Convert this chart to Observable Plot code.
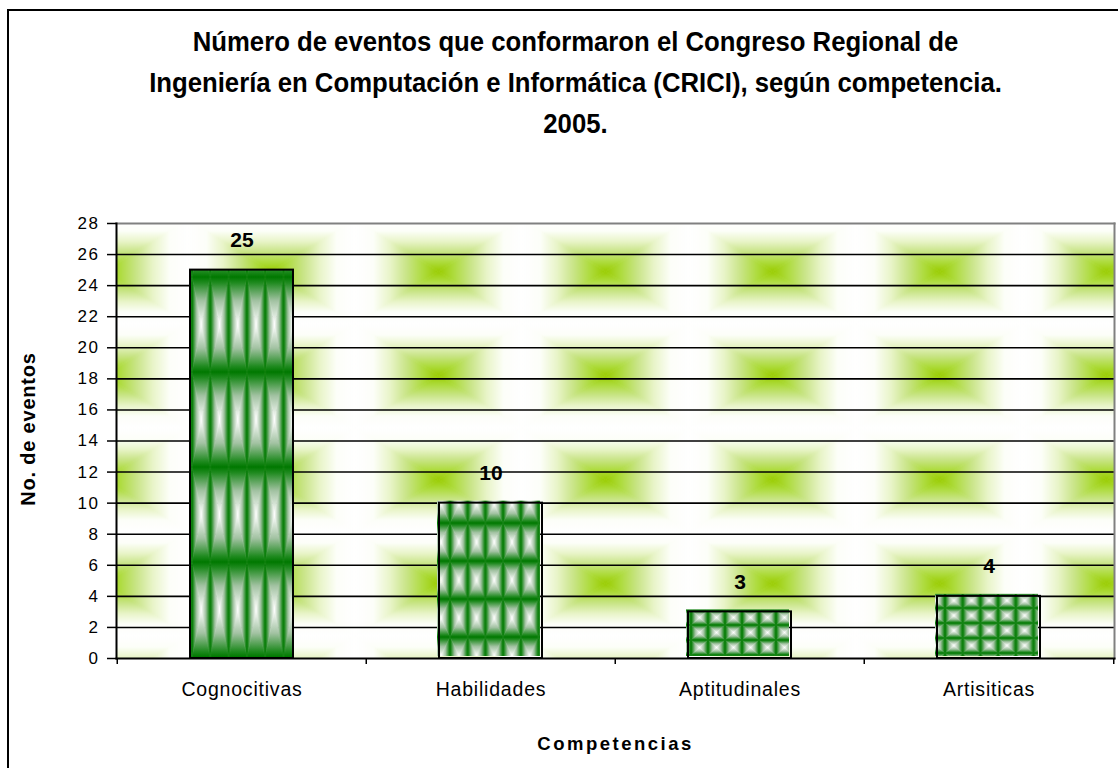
<!DOCTYPE html>
<html><head><meta charset="utf-8">
<script src="https://cdn.jsdelivr.net/npm/d3@7"></script>
<script src="https://cdn.jsdelivr.net/npm/@observablehq/plot@0.6"></script>
<style>
body{margin:0;width:1118px;height:768px;overflow:hidden;position:relative;background:#fff;font-family:"Liberation Sans",Arial,sans-serif}
#frame{position:absolute;left:7px;top:9px;width:1300px;height:1000px;border:2px solid #000;box-sizing:border-box}
#title{position:absolute;left:0;top:22px;width:1151px;text-align:center;font-family:"Liberation Sans",Arial,sans-serif;font-weight:bold;font-size:27px;line-height:41px;color:#000}
#title div{transform:scaleX(0.952);transform-origin:575.5px 50%;white-space:nowrap}
#chart{position:absolute;left:0;top:0}
</style></head>
<body>
<div id="frame"></div>
<div id="title"><div>Número de eventos que conformaron el Congreso Regional de</div><div>Ingeniería en Computación e Informática (CRICI), según competencia.</div><div>2005.</div></div>
<div id="chart"></div>
<script>
const categories = ["Cognocitivas", "Habilidades", "Aptitudinales", "Artisiticas"];
const values = [25, 10, 3, 4];
const yTicks = [0, 2, 4, 6, 8, 10, 12, 14, 16, 18, 20, 22, 24, 26, 28];
const yLabel = "No. de eventos";
const xLabel = "Competencias";

const data = categories.map((c, i) => ({category: c, value: values[i]}));

const W = 1118, H = 768, mL = 116, mR = 4, mT = 223, mB = 110;
const step = (W - mL - mR) / categories.length;

const marks = [
  Plot.frame({fill: "url(#bgPat)"}),
  Plot.ruleY(yTicks.filter(t => t > 0 && t < 28), {stroke: "#000", strokeWidth: 1.6}),
];
data.forEach((d, i) => {
  const off = i === 0 ? 0 : -2;
  marks.push(Plot.barY([d], {x: "category", y: "value", fill: `url(#barPat${i})`, dx: off, dy: off}));
});
marks.push(
  Plot.barY(data, {x: "category", y: "value", fill: "none", stroke: "#000", strokeWidth: 2}),
  Plot.frame({anchor: "top", stroke: "#808080", strokeWidth: 2}),
  Plot.frame({anchor: "right", stroke: "#808080", strokeWidth: 2}),
  Plot.frame({anchor: "left", stroke: "#000", strokeWidth: 2}),
  Plot.frame({anchor: "bottom", stroke: "#000", strokeWidth: 2}),
  Plot.axisY({ticks: yTicks, tickSize: 9, tickPadding: 8, fontSize: 17, label: null, strokeWidth: 1.5}),
  Plot.axisX({tickSize: 0, tickPadding: 24, fontSize: 19.5, label: null}),
  Plot.ruleX(data, {x: "category", dx: -step / 2, y1: 0, y2: 0, insetBottom: -6, stroke: "#000", strokeWidth: 1.5}),
  Plot.ruleX(data.slice(-1), {x: "category", dx: step / 2, y1: 0, y2: 0, insetBottom: -6, stroke: "#000", strokeWidth: 1.5}),
  Plot.text(data, {x: "category", y: "value", text: d => String(d.value), dy: -30, fontSize: 21, fontWeight: "bold"}),
  Plot.text([yLabel], {frameAnchor: "left", textAnchor: "middle", text: d => d, rotate: -90, dx: -88, dy: -12, fontSize: 20, fontWeight: "bold"}),
  Plot.text([xLabel], {frameAnchor: "bottom", textAnchor: "middle", text: d => d, dy: 91, fontSize: 18.5, fontWeight: "bold"})
);

const svg = Plot.plot({
  width: W, height: H,
  marginLeft: mL, marginRight: mR, marginTop: mT, marginBottom: mB,
  x: {domain: categories, paddingInner: 0.587, paddingOuter: 0.2935, axis: null},
  y: {domain: [0, 28], axis: null},
  style: {fontFamily: '"Liberation Sans",Arial,sans-serif', color: "#000", background: "transparent", overflow: "visible"},
  marks
});

// pattern definitions
const defs = d3.select(svg).insert("defs", ":first-child");
function gradSet(prefix, stops) {
  const dirs = {t: [0, 0, 0, 1], b: [0, 1, 0, 0], l: [0, 0, 1, 0], r: [1, 0, 0, 0]};
  for (const [k, [x1, y1, x2, y2]] of Object.entries(dirs)) {
    const g = defs.append("linearGradient").attr("id", `${prefix}-${k}`)
      .attr("x1", x1).attr("y1", y1).attr("x2", x2).attr("y2", y2);
    for (const [o, c] of stops) g.append("stop").attr("offset", o).attr("stop-color", c);
  }
}
gradSet("bgG", [[0, "#ffffff"], [0.22, "#fcfef8"], [0.42, "#e8f4c8"], [0.62, "#c8e486"], [0.82, "#addb3c"], [1, "#99cc00"]]);
gradSet("barG", [[0, "#007800"], [0.12, "#1f8a1f"], [0.5, "#a2c2a2"], [1, "#ffffff"]]);
function boxPattern(id, prefix, w, h, x, y) {
  const p = defs.append("pattern").attr("id", id).attr("patternUnits", "userSpaceOnUse")
    .attr("x", x).attr("y", y).attr("width", w).attr("height", h);
  const cx = w / 2, cy = h / 2;
  const polys = {
    t: [[0, 0], [w, 0], [cx, cy]],
    b: [[0, h], [w, h], [cx, cy]],
    l: [[0, 0], [0, h], [cx, cy]],
    r: [[w, 0], [w, h], [cx, cy]]
  };
  for (const [k, pts] of Object.entries(polys)) {
    p.append("polygon").attr("points", pts.map(q => q.join(",")).join(" "))
      .attr("fill", `url(#${prefix}-${k})`).attr("stroke", `url(#${prefix}-${k})`).attr("stroke-width", 0.6);
  }
}
boxPattern("bgPat", "bgG", 167, 104, 20.5, 219);
boxPattern("barPat0", "barG", 18.3, 95, 192, 87);
boxPattern("barPat1", "barG", 17.7, 38, 434.3, 31);
boxPattern("barPat2", "barG", 17, 15, 693, 12);
boxPattern("barPat3", "barG", 17.7, 15, 929.3, 10);

const s = d3.select(svg);
s.selectAll('g[aria-label="y-axis tick label"] text').style("letter-spacing", "1.5px");
s.selectAll('g[aria-label="x-axis tick label"] text').style("letter-spacing", "0.8px");
s.selectAll("text").filter(function() { return this.textContent === xLabel; }).style("letter-spacing", "2.5px");
s.selectAll("text").filter(function() { return this.textContent === yLabel; }).style("letter-spacing", "0.8px");

document.getElementById("chart").appendChild(svg);
</script>
</body></html>
